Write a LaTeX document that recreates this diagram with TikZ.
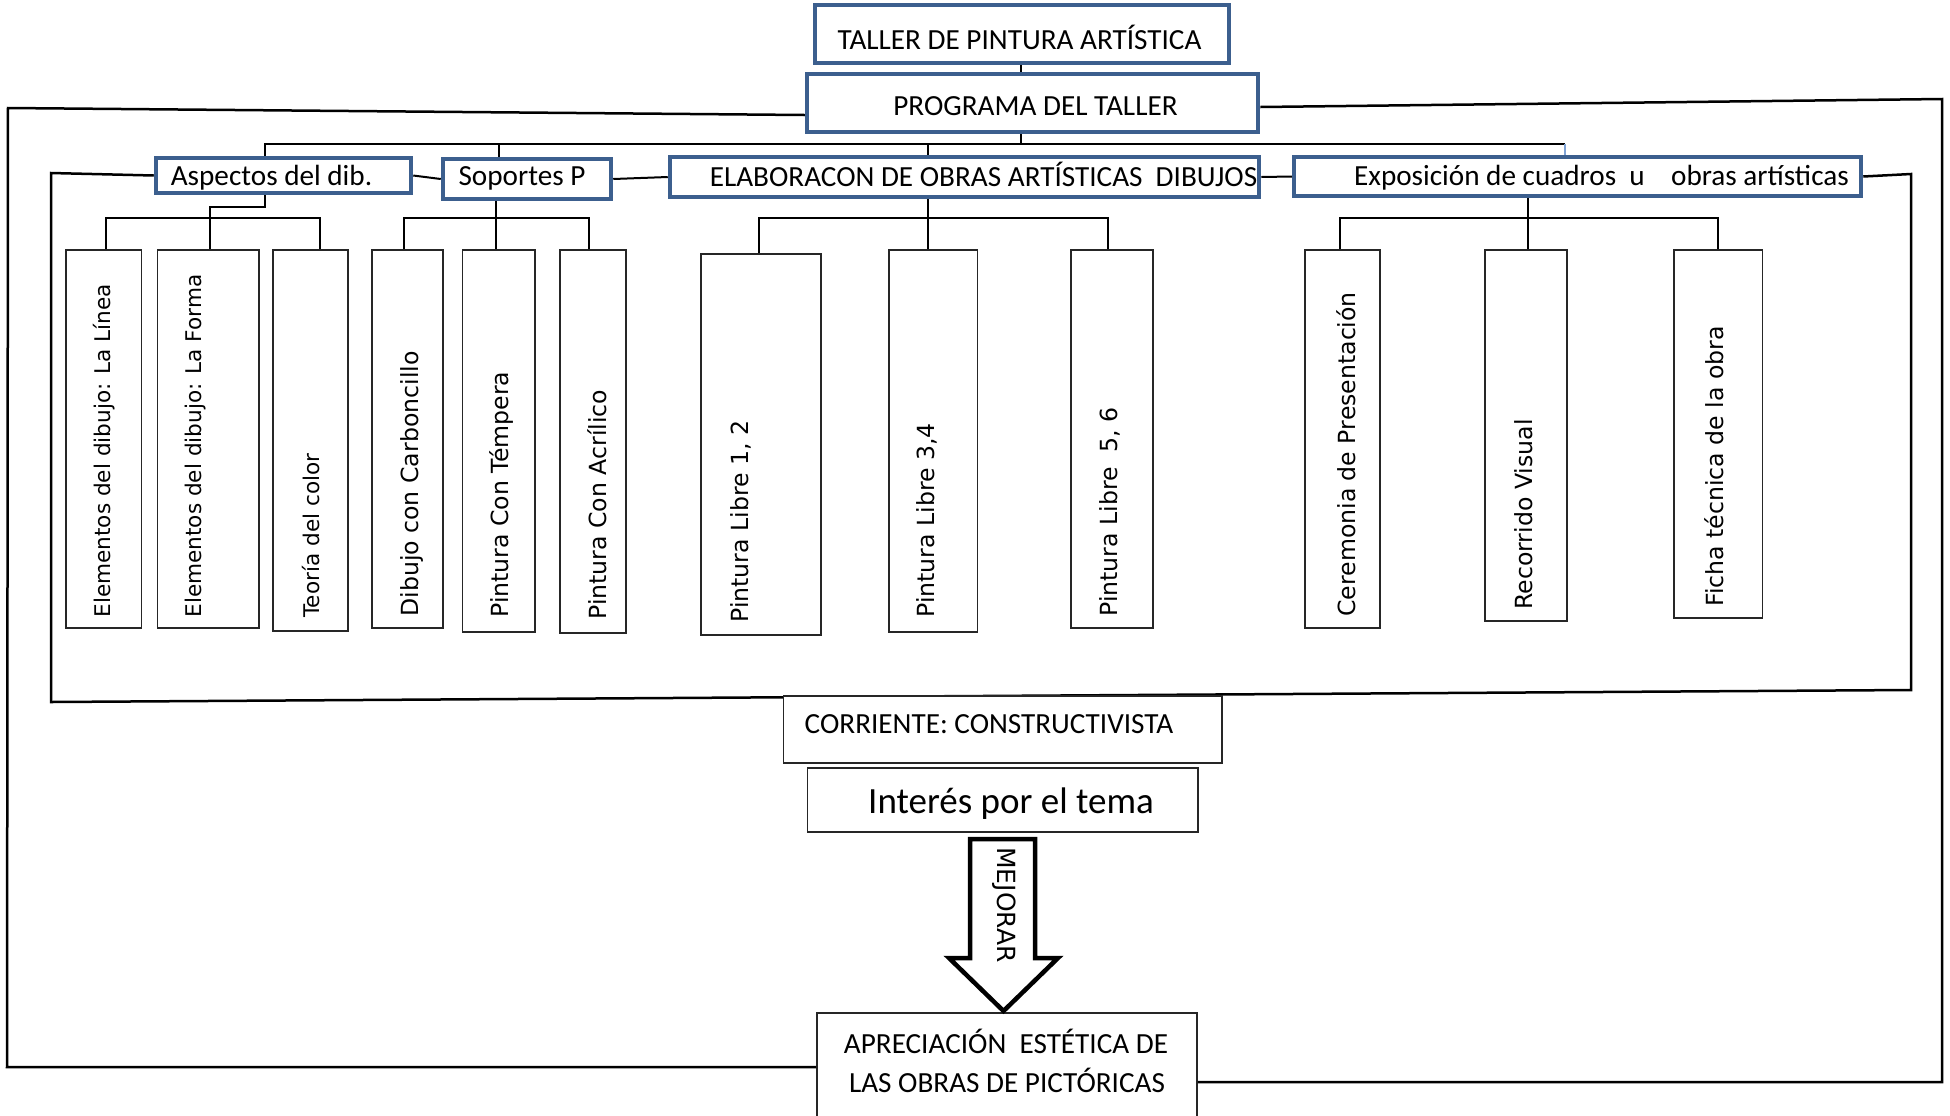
\documentclass[tikz,border=0pt]{standalone}
\usepackage{fontspec}
\setmainfont{Carlito}
\newfontfamily\dvs{DejaVu Sans}
\usetikzlibrary{fit,calc}
\definecolor{boxblue}{HTML}{3C5F8E}
\definecolor{linkblue}{HTML}{7FA3D6}
\tikzset{
  hbox/.style={draw=boxblue, line width=2.25pt, fill=white, inner sep=0pt},
  kbox/.style={draw=black!85, line width=0.8pt, fill=white, inner sep=0pt},
  pbox/.style={draw=black!85, line width=0.8pt, fill=white, inner sep=0pt},
  htxt/.style={font=\fontsize{14.6}{17}\selectfont, anchor=base, inner sep=0pt},
  bigtxt/.style={font=\fontsize{18.5}{22}\selectfont, anchor=base, inner sep=0pt},
  ktxtA/.style={font=\dvs\fontsize{10.8}{13}\selectfont, rotate=90, anchor=west, inner sep=0pt},
  ktxtB/.style={font=\dvs\fontsize{11.8}{14}\selectfont, rotate=90, anchor=west, inner sep=0pt},
  looplne/.style={line width=1.25pt, line join=miter},
  busline/.style={line width=1pt},
  blockarrow/.style={draw=black, line width=2.25pt, fill=white, line join=miter},
}
\begin{document}
\begin{tikzpicture}[x=0.5pt,y=-0.5pt]
\useasboundingbox (0,0) rectangle (1950,1115);

% ---------- header boxes ----------
\node[hbox, fit={(815,5) (1229,63)}] (taller) {};
\node[htxt] (ttaller) at (1019.5,49) {TALLER DE PINTURA ARTÍSTICA};
\node[hbox, fit={(807,74) (1258,132)}] (prog) {};
\node[htxt] (tprog) at (1035.5,115) {PROGRAMA DEL TALLER};

\node[hbox, fit={(156,158) (411,193)}] (asp) {};
\node[htxt] (tasp) at (271.5,185) {Aspectos del dib.};
\node[hbox, fit={(443,159) (611,199)}] (sop) {};
\node[htxt] (tsop) at (522,185) {Soportes P};
\node[hbox, fit={(670,157) (1259,197)}] (elab) {};
\node[htxt] (telab) at (983.5,186) {ELABORACON DE OBRAS ARTÍSTICAS\ \ DIBUJOS};
\node[hbox, fit={(1294,157) (1861,196)}] (expo) {};
\node[htxt] (texpo) at (1601.5,185) {Exposición de cuadros\ \ u\ \ \ \ obras artísticas};

% ---------- child boxes ----------
\node[kbox, fit={(66,250) (141.5,628)}] (k1) {};
\node[kbox, fit={(157.6,250) (259,628)}] (k2) {};
\node[kbox, fit={(273,250) (348,631)}] (k3) {};
\node[kbox, fit={(372,250) (443,628)}] (k4) {};
\node[kbox, fit={(462.5,250) (535,632)}] (k5) {};
\node[kbox, fit={(560,250) (626,633)}] (k6) {};
\node[kbox, fit={(701,254) (821,635)}] (k7) {};
\node[kbox, fit={(889,250) (977.5,632)}] (k8) {};
\node[kbox, fit={(1071,250) (1153,628)}] (k9) {};
\node[kbox, fit={(1305,250) (1380,628)}] (k10) {};
\node[kbox, fit={(1485,250) (1567,621)}] (k11) {};
\node[kbox, fit={(1674,250) (1762.5,618)}] (k12) {};

\node[ktxtA] (t1) at (104.5,618) {Elementos del dibujo: La Línea};
\node[ktxtA] (t2) at (196,618) {Elementos del dibujo: La Forma};
\node[ktxtA] (t3) at (311,618) {Teoría del color};
\node[ktxtB] (t4) at (412,617) {Dibujo con Carboncillo};
\node[ktxtB] (t5) at (502,618) {Pintura Con Témpera};
\node[ktxtB] (t6) at (597,620) {Pintura Con Acrílico};
\node[ktxtB] (t7) at (741,623) {Pintura Libre 1, 2};
\node[ktxtB] (t8) at (927,618) {Pintura Libre 3,4};
\node[ktxtB] (t9) at (1110,617) {Pintura Libre\ \ 5, 6};
\node[ktxtB] (t10) at (1346,617) {Ceremonia de Presentación};
\node[ktxtB] (t11) at (1524,610) {Recorrido Visual};
\node[ktxtB] (t12) at (1714,607) {Ficha técnica de la obra};

% ---------- lower boxes ----------
\node[pbox, fit={(817,1013) (1197,1125)}] (aprec) {};
\node[htxt] (taprec1) at (1006,1053) {APRECIACIÓN\ \ ESTÉTICA DE};
\node[htxt] (taprec2) at (1007,1092) {LAS OBRAS DE PICTÓRICAS};

% ---------- outer loop ----------
\coordinate (ol1) at (8,108);
\coordinate (ol2) at (7,1067);
\coordinate (or1) at (1942,99);
\coordinate (or2) at (1942,1082);
\draw[looplne] ([yshift=-6pt]prog.west) -- (ol1) -- (ol2) -- (ol2 -| aprec.west);
\draw[looplne] ([yshift=-2pt]prog.east) -- (or1) -- (or2) -- (or2 -| aprec.east);

% ---------- inner loop ----------
\coordinate (il1) at (51,173);
\coordinate (il2) at (51,702);
\coordinate (ir2) at (1911,690);
\coordinate (ir1) at (1911,174);
\draw[looplne] (asp.west) -- (il1) -- (il2) -- (ir2) -- (ir1) -- (expo.east);

\node[pbox, fit={(783.5,696) (1222,763)}] (corr) {};
\node[htxt] (tcorr) at (989,733) {CORRIENTE: CONSTRUCTIVISTA};
\node[pbox, fit={(807.6,768) (1198,832)}] (inter) {};
\node[bigtxt] (tinter) at (1011,813) {Interés por el tema};

% ---------- top bus ----------
\coordinate (tb) at (1021,144);
\coordinate (ba) at (265,144);
\coordinate (bs) at (499,144);
\coordinate (bl) at (928,144);
\coordinate (be) at (1565,144);
\draw[busline] (tb |- taller.south) -- (tb |- prog.north);
\draw[busline] (tb |- prog.south) -- (tb);
\draw[busline] (ba |- asp.north) -- (ba) -- (be);
\draw[busline] (bs) -- (bs |- sop.north);
\draw[busline] (bl) -- (bl |- elab.north);
\draw[linkblue, line width=0.8pt] (be) -- (be |- expo.north);

% ---------- links between header boxes ----------
\draw[busline] (asp.east) -- (sop.west);
\draw[busline] (sop.east) -- (elab.west);
\draw[busline] (elab.east) -- (expo.west);

% ---------- Aspectos subtree ----------
\coordinate (a1) at (265,207);
\coordinate (a2) at (210,207);
\coordinate (ab1) at (106,218);
\coordinate (ab3) at (320,218);
\draw[busline] (a1 |- asp.south) -- (a1) -- (a2) -- (a2 |- k2.north);
\draw[busline] (ab1 |- k1.north) -- (ab1) -- (ab3) -- (ab3 |- k3.north);

% ---------- Soportes subtree ----------
\coordinate (s0) at (496,218);
\coordinate (sb1) at (404,218);
\coordinate (sb3) at (589,218);
\draw[busline] (s0 |- sop.south) -- (s0 |- k5.north);
\draw[busline] (sb1 |- k4.north) -- (sb1) -- (sb3) -- (sb3 |- k6.north);

% ---------- ELABORACON subtree ----------
\coordinate (e0) at (928,218);
\coordinate (eb1) at (759,218);
\coordinate (eb3) at (1108,218);
\draw[busline] (e0 |- elab.south) -- (e0 |- k8.north);
\draw[busline] (eb1 |- k7.north) -- (eb1) -- (eb3) -- (eb3 |- k9.north);

% ---------- Exposicion subtree ----------
\coordinate (x0) at (1528,218);
\coordinate (xb1) at (1340,218);
\coordinate (xb3) at (1718,218);
\draw[busline] (x0 |- expo.south) -- (x0 |- k11.north);
\draw[busline] (xb1 |- k10.north) -- (xb1) -- (xb3) -- (xb3 |- k12.north);

% ---------- block arrow ----------
\draw[blockarrow] (970,839) -- (1035,839) -- (1035,958) -- (1058,958)
  -- (1003.5,1011) -- (949,958) -- (970,958) -- cycle;
\node[font=\dvs\fontsize{12.5}{15}\selectfont, rotate=-90, anchor=west, inner sep=0pt] (mejorar) at (1004,847) {MEJORAR};
\end{tikzpicture}
\end{document}
